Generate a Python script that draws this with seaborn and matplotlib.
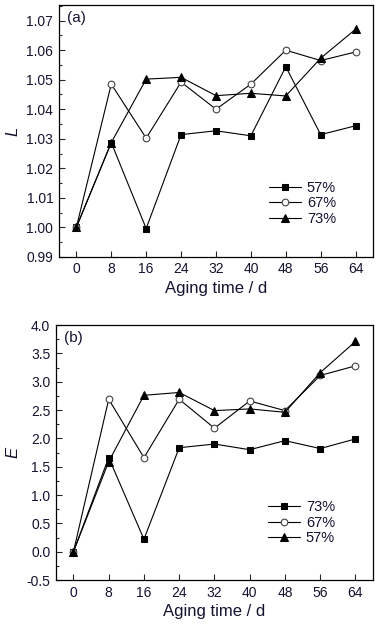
import numpy as np
import pandas as pd
import matplotlib
matplotlib.use('Agg')
import matplotlib.pyplot as plt
from matplotlib.ticker import MultipleLocator
import seaborn as sns

days = [0, 8, 16, 24, 32, 40, 48, 56, 64]

# panel (a): L
L_57 = [1.000, 1.0287, 0.9996, 1.0314, 1.0327, 1.0310, 1.0544, 1.0314, 1.0344]
L_67 = [1.000, 1.0485, 1.0302, 1.0492, 1.0400, 1.0485, 1.0600, 1.0565, 1.0594]
L_73 = [1.000, 1.0287, 1.0502, 1.0508, 1.0446, 1.0454, 1.0445, 1.0573, 1.0671]

# panel (b): E
E_73 = [0.00, 1.66, 0.22, 1.835, 1.90, 1.80, 1.96, 1.82, 1.99]
E_67 = [0.00, 2.69, 1.66, 2.69, 2.18, 2.66, 2.49, 3.11, 3.28]
E_57 = [0.00, 1.59, 2.76, 2.81, 2.49, 2.52, 2.46, 3.16, 3.71]

sns.set_style('white')
plt.rcParams['font.family'] = ['Liberation Sans', 'DejaVu Sans']
txt = '#141430'

fig = plt.figure(figsize=(3.85, 6.28), dpi=100)
ax1 = fig.add_axes([0.153, 0.591, 0.816, 0.401])
ax2 = fig.add_axes([0.145, 0.0764, 0.824, 0.406])

styles = {
    'sq': dict(marker='s', mfc='black', mec='black', ms=4.6),
    'ci': dict(marker='o', mfc='white', mec='#444444', ms=4.8, mew=0.8),
    'tr': dict(marker='^', mfc='black', mec='black', ms=5.2),
}

def draw(ax, series, ylim, major, minor, ylabel, tag, legend_anchor):
    for vals, label, st in series:
        df = pd.DataFrame({'day': days, 'val': vals})
        sns.lineplot(data=df, x='day', y='val', ax=ax, color='black', lw=0.8,
                     label=label, **st)
    ax.set_xlim(-4, 68)
    ax.set_ylim(*ylim)
    ax.set_xticks(days)
    ax.yaxis.set_major_locator(MultipleLocator(major))
    ax.yaxis.set_minor_locator(MultipleLocator(minor))
    ax.tick_params(axis='both', which='both', direction='in', left=True, bottom=True,
                   labelsize=10, labelcolor=txt, pad=4)
    ax.tick_params(which='major', length=4, width=0.8)
    ax.tick_params(which='minor', length=2.5, width=0.8)
    for s in ax.spines.values():
        s.set_color('black')
        s.set_linewidth(0.9)
    ax.set_xlabel('Aging time / d', fontsize=12, color=txt, labelpad=3)
    ax.set_ylabel(ylabel, fontsize=12, color=txt, style='italic')
    ax.text(0.025, 0.975, tag, transform=ax.transAxes, ha='left', va='top',
            fontsize=11, color=txt)
    leg = ax.legend(loc='upper left', bbox_to_anchor=legend_anchor, frameon=False,
                    fontsize=10.5, handlelength=2.2, handletextpad=0.4,
                    labelspacing=0.1, borderaxespad=0)
    for t in leg.get_texts():
        t.set_color(txt)

draw(ax1, [(L_57, '57%', styles['sq']), (L_67, '67%', styles['ci']), (L_73, '73%', styles['tr'])],
     (0.99, 1.0753), 0.01, 0.005, 'L', '(a)', (0.65, 0.325))
ax1.yaxis.set_major_formatter(matplotlib.ticker.FormatStrFormatter('%.2f'))

draw(ax2, [(E_73, '73%', styles['sq']), (E_67, '67%', styles['ci']), (E_57, '57%', styles['tr'])],
     (-0.5, 4.0), 0.5, 0.25, 'E', '(b)', (0.65, 0.335))
ax2.yaxis.set_major_formatter(matplotlib.ticker.FormatStrFormatter('%.1f'))

fig.savefig('out.png', dpi=100)
